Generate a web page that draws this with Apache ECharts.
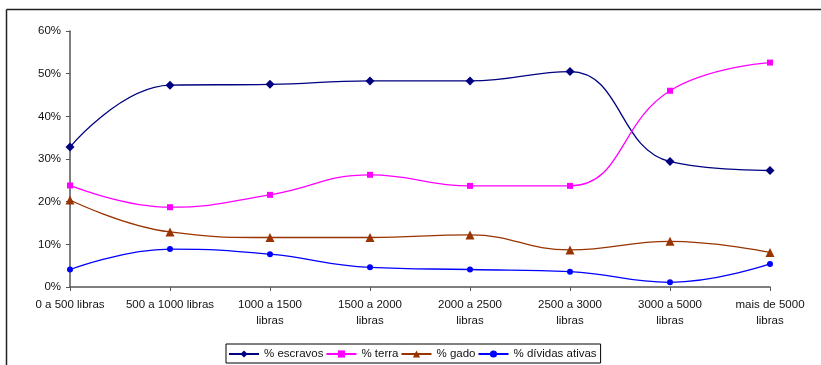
<!DOCTYPE html>
<html>
<head>
<meta charset="utf-8">
<script src="https://cdn.jsdelivr.net/npm/echarts@6/dist/echarts.min.js"></script>
<style>
html, body { margin: 0; padding: 0; background: #fff; }
#chart { width: 821px; height: 365px; }
</style>
</head>
<body>
<div id="chart"></div>
<script>
// Wealth brackets (libras) and share of each asset type, in percent
const categories = [
  '0 a 500 libras',
  '500 a 1000 libras',
  '1000 a 1500\nlibras',
  '1500 a 2000\nlibras',
  '2000 a 2500\nlibras',
  '2500 a 3000\nlibras',
  '3000 a 5000\nlibras',
  'mais de 5000\nlibras'
];
const escravos = [32.8, 47.3, 47.5, 48.3, 48.3, 50.5, 29.4, 27.3];
const terra    = [23.8, 18.7, 21.6, 26.3, 23.7, 23.7, 46.0, 52.6];
const gado     = [20.4, 12.9, 11.6, 11.6, 12.2, 8.7, 10.7, 8.1];
const dividas  = [4.1, 8.9, 7.7, 4.6, 4.1, 3.6, 1.1, 5.4];
const yTicks   = { min: 0, max: 60, interval: 10 };

const font = 'Liberation Sans, Arial, sans-serif';

function line(name, data, color, symbol, size) {
  return {
    name: name,
    type: 'line',
    data: data,
    smooth: 0.45,
    symbol: symbol,
    symbolSize: size,
    lineStyle: { color: color, width: 1.3 },
    itemStyle: { color: color },
    z: 3
  };
}

const chart = echarts.init(document.getElementById('chart'), null, { renderer: 'canvas' });
chart.setOption({
  animation: false,
  textStyle: { fontFamily: font },
  grid: { left: 70, right: 51, top: 31, bottom: 78, containLabel: false },
  xAxis: {
    type: 'category',
    data: categories,
    boundaryGap: false,
    axisLine: { lineStyle: { color: '#555', width: 1.5 } },
    axisTick: { show: true, length: 4, alignWithLabel: true, lineStyle: { color: '#555' } },
    axisLabel: { color: '#111', fontSize: 11.5, fontFamily: font, margin: 10, lineHeight: 16, interval: 0 },
    splitLine: { show: false }
  },
  yAxis: {
    type: 'value',
    min: yTicks.min,
    max: yTicks.max,
    interval: yTicks.interval,
    axisLine: { show: true, lineStyle: { color: '#555', width: 1.5 } },
    axisTick: { show: true, length: 4, lineStyle: { color: '#555' } },
    axisLabel: { color: '#111', fontSize: 11.5, fontFamily: font, margin: 9, formatter: '{value}%' },
    splitLine: { show: false }
  },
  legend: {
    left: 226,
    top: 344,
    orient: 'horizontal',
    padding: [4, 4, 3, 2],
    itemGap: 2,
    itemWidth: 30,
    itemHeight: 9,
    borderColor: '#000',
    borderWidth: 1,
    textStyle: { color: '#111', fontSize: 11.5, fontFamily: font },
    data: ['% escravos', '% terra', '% gado', '% dívidas ativas']
  },
  series: [
    line('% escravos', escravos, '#000080', 'diamond', 9),
    line('% terra', terra, '#FF00FF', 'rect', 6),
    line('% gado', gado, '#993300', 'triangle', 9),
    line('% dívidas ativas', dividas, '#0000FF', 'circle', 6)
  ],
  graphic: [
    { type: 'line', shape: { x1: 6.5, y1: 9.5, x2: 821, y2: 9.5 }, style: { stroke: '#222', lineWidth: 1.5 }, silent: true },
    { type: 'line', shape: { x1: 6.5, y1: 9.5, x2: 6.5, y2: 365 }, style: { stroke: '#222', lineWidth: 1.5 }, silent: true }
  ]
});
</script>
</body>
</html>
